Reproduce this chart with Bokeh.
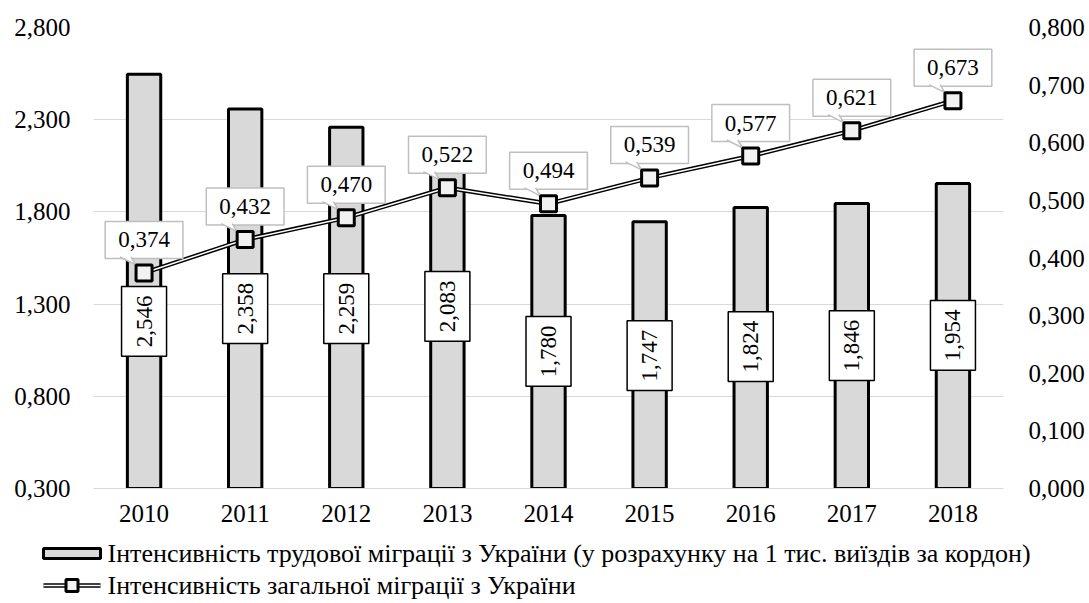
import math
from bokeh.plotting import figure
from bokeh.layouts import column
from bokeh.models import LinearAxis, Range1d, FixedTicker, CustomJSTickFormatter
from bokeh.embed import file_html
from bokeh.resources import INLINE
from bokeh.core.properties import value

# ---------------- data ----------------
years = ["2010", "2011", "2012", "2013", "2014", "2015", "2016", "2017", "2018"]
labour = [2.546, 2.358, 2.259, 2.083, 1.780, 1.747, 1.824, 1.846, 1.954]
total = [0.374, 0.432, 0.470, 0.522, 0.494, 0.539, 0.577, 0.621, 0.673]
# vertical anchor of the rotated bar labels (left-axis units)
bar_label_y = [1.206, 1.276, 1.276, 1.287, 1.043, 1.021, 1.070, 1.075, 1.130]
left_ticks = [0.3, 0.8, 1.3, 1.8, 2.3, 2.8]
right_ticks = [0.0, 0.1, 0.2, 0.3, 0.4, 0.5, 0.6, 0.7, 0.8]
name_bar = "Інтенсивність трудової міграції з України (у розрахунку на 1 тис. виїздів за кордон)"
name_line = "Інтенсивність загальної міграції з України"

FONT = "Liberation Serif"
FS = "25px"
FS_LBL = "23px"
FS_LEG = "26px"

xs = [i + 0.5 for i in range(len(years))]

# ---------------- layout ----------------
W = 1089
H1 = 535
ML, MT = 93, 27
MR = W - 1003
MB = H1 - 488
frame_w = W - ML - MR
frame_h = H1 - MT - MB
H2 = 67

BAR_STYLE = dict(fill_color="#d9d9d9", line_color="black", line_width=3)
OUTER = dict(line_color="black", line_width=4.5)
INNER = dict(line_color="white", line_width=1.5)
MARK = dict(marker="square", fill_color="#f2f2f2", line_color="black", line_width=3)

p = figure(width=W, height=H1, x_range=Range1d(0, len(years)), y_range=Range1d(0.3, 2.8),
           output_backend="svg", toolbar_location=None, frame_align=False,
           min_border_left=ML, min_border_right=MR, min_border_top=MT, min_border_bottom=MB)
p.outline_line_color = None
p.background_fill_color = "white"
p.border_fill_color = "white"
p.extra_y_ranges = {"right": Range1d(0.0, 0.8)}

fmt_code = "return tick.toFixed(3).replace('.', ',');"
p.xaxis.ticker = FixedTicker(ticks=xs)
p.xaxis.formatter = CustomJSTickFormatter(args=dict(labels=years),
                                          code="return labels[Math.floor(tick)];")
p.yaxis.ticker = FixedTicker(ticks=left_ticks)
p.yaxis.formatter = CustomJSTickFormatter(code=fmt_code)
raxis = LinearAxis(y_range_name="right", ticker=FixedTicker(ticks=right_ticks),
                   formatter=CustomJSTickFormatter(code=fmt_code))
p.add_layout(raxis, "right")

for ax in [p.xaxis[0], p.yaxis[0], raxis]:
    ax.major_tick_line_color = None
    ax.minor_tick_line_color = None
    ax.major_tick_out = 0
    ax.major_tick_in = 0
    ax.minor_tick_out = 0
    ax.minor_tick_in = 0
    ax.major_label_text_font = FONT
    ax.major_label_text_font_size = FS
    ax.major_label_text_color = "black"
p.yaxis[0].axis_line_color = None
raxis.axis_line_color = None
p.yaxis[0].major_label_standoff = 23
raxis.major_label_standoff = 25
p.xaxis[0].axis_line_color = "#d9d9d9"
p.xaxis[0].major_label_standoff = 16

p.xgrid.grid_line_color = None
p.ygrid.grid_line_color = "#d9d9d9"
p.ygrid.grid_line_width = 1

# bars
p.vbar(x=xs, top=labour, bottom=0, width=0.33, **BAR_STYLE)

# rotated bar labels
p.text(x=xs, y=bar_label_y, text=[f"{v:.3f}".replace(".", ",") for v in labour],
       angle=math.pi / 2, text_align="center", text_baseline="middle",
       text_font=value(FONT), text_font_size=FS_LBL, text_color="black",
       background_fill_color="white", border_line_color="black", border_line_width=1.5,
       padding=(9, 15))

# line (double line)
p.line(xs, total, y_range_name="right", **OUTER)
p.line(xs, total, y_range_name="right", **INNER)

# callout labels
px_x = len(years) / frame_w
px_y = 0.8 / frame_h
p.text(x=xs, y=total, y_range_name="right", y_offset=-33,
       text=[f"{v:.3f}".replace(".", ",") for v in total],
       text_align="center", text_baseline="middle",
       text_font=value(FONT), text_font_size=FS_LBL, text_color="black",
       background_fill_color="white", border_line_color="#bfbfbf", border_line_width=1.5,
       padding=(13, 11))
ptr_x = [[x - 24 * px_x, x - 8 * px_x, x - 13 * px_x] for x in xs]
ptr_y = [[v + 16 * px_y, v + 8 * px_y, v + 16 * px_y] for v in total]
p.patches(ptr_x, ptr_y, y_range_name="right", fill_color="white", line_color=None)
p.multi_line(ptr_x, ptr_y, y_range_name="right", line_color="#bfbfbf", line_width=1.5)

p.scatter(xs, total, y_range_name="right", size=16, **MARK)

# ---------------- legend strip (pixel coordinates, y downwards) ----------------
q = figure(width=W, height=H2, x_range=Range1d(0, W), y_range=Range1d(H2, 0),
           output_backend="svg", toolbar_location=None, frame_align=False,
           x_axis_type=None, y_axis_type=None,
           min_border=0, min_border_left=0, min_border_right=0,
           min_border_top=0, min_border_bottom=0)
q.outline_line_color = None
q.grid.visible = False
q.background_fill_color = "white"
q.border_fill_color = "white"

sw_x0, sw_x1, txt_x = 43, 100, 107
row1, row2 = 18, 50
sw_c = (sw_x0 + sw_x1) / 2
q.rect(x=[sw_c], y=[row1], width=sw_x1 - sw_x0, height=10, **BAR_STYLE)
q.line([sw_x0, sw_x1], [row2, row2], **OUTER)
q.line([sw_x0, sw_x1], [row2, row2], **INNER)
q.scatter([sw_c], [row2], size=12, **MARK)
q.text(x=[txt_x, txt_x], y=[row1, row2], text=[name_bar, name_line],
       text_align="left", text_baseline="middle",
       text_font=value(FONT), text_font_size=FS_LEG, text_color="black")

layout = column(p, q, spacing=0)
open("out.html", "w").write(file_html(layout, INLINE))
